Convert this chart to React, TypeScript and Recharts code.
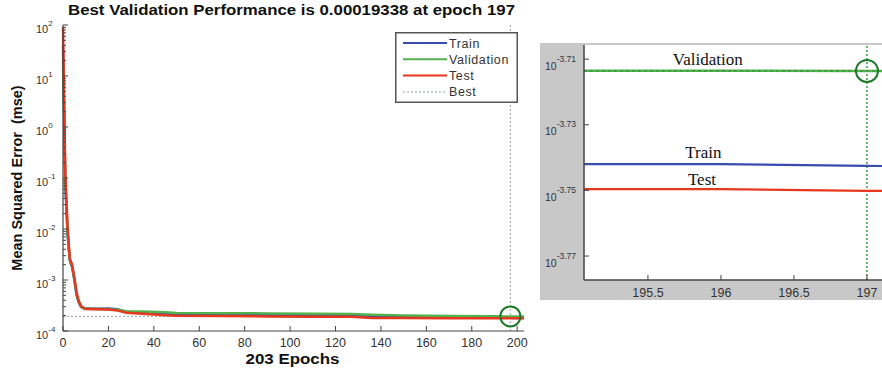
import React from 'react';
import {
  LineChart,
  Line,
  XAxis,
  YAxis,
  ReferenceLine,
  ReferenceDot,
  Legend,
  CartesianGrid,
  Customized,
} from 'recharts';

// ---------- data ----------
const epochs = [0, 1, 2, 3, 4, 5, 6, 7, 8, 9, 10, 15, 20, 24, 28, 35, 45, 50, 70, 90, 110, 127, 136, 150, 170, 190, 195, 196, 197, 198, 203];
const trainMse = [40, 0.079, 7.9e-3, 2.4e-3, 1.78e-3, 1.0e-3, 5.0e-4, 3.55e-4, 2.95e-4, 2.82e-4, 2.75e-4, 2.72e-4, 2.75e-4, 2.66e-4, 2.34e-4, 2.26e-4, 2.21e-4, 2.14e-4, 2.09e-4, 2.07e-4, 2.04e-4, 2.0e-4, 1.95e-4, 1.91e-4, 1.86e-4, 1.82e-4, 1.8113e-4, 1.8113e-4, 1.8092e-4, 1.807e-4, 1.8e-4];
const validationMse = [20, 0.1, 8.9e-3, 2.5e-3, 1.9e-3, 1.05e-3, 5.2e-4, 3.6e-4, 3.0e-4, 2.82e-4, 2.72e-4, 2.69e-4, 2.66e-4, 2.6e-4, 2.45e-4, 2.4e-4, 2.32e-4, 2.26e-4, 2.24e-4, 2.21e-4, 2.19e-4, 2.16e-4, 2.09e-4, 2.02e-4, 1.97e-4, 1.941e-4, 1.934e-4, 1.9339e-4, 1.9338e-4, 1.9339e-4, 1.9345e-4];
const testMse = [90, 0.126, 0.0112, 2.63e-3, 2.0e-3, 1.12e-3, 5.6e-4, 3.8e-4, 3.1e-4, 2.82e-4, 2.69e-4, 2.66e-4, 2.63e-4, 2.51e-4, 2.29e-4, 2.19e-4, 2.04e-4, 2.0e-4, 1.97e-4, 1.93e-4, 1.91e-4, 1.91e-4, 1.8e-4, 1.79e-4, 1.786e-4, 1.78e-4, 1.7799e-4, 1.7799e-4, 1.7778e-4, 1.7775e-4, 1.777e-4];

const bestEpoch = 197;
const bestValidation = 0.00019338;
const totalEpochs = 203;

const mainXTicks = [0, 20, 40, 60, 80, 100, 120, 140, 160, 180, 200];
const mainYDecades = [-4, -3, -2, -1, 0, 1, 2];
const insetXTicks = [195.5, 196, 196.5, 197];
const insetYTicks = [-3.77, -3.75, -3.73, -3.71];
const insetXDomain = [195.062, 197.103];
const insetYDomain = [-3.7773, -3.7057];

const titleText = 'Best Validation Performance is 0.00019338 at epoch 197';
const xLabelText = '203 Epochs';
const yLabelText = 'Mean Squared Error  (mse)';

// ---------- derived table ----------
const rows = epochs.map((e, i) => ({
  epoch: e,
  train: Math.log10(trainMse[i]),
  validation: Math.log10(validationMse[i]),
  test: Math.log10(testMse[i]),
}));
const bestLog = Math.log10(bestValidation);

const minorTicks: number[] = [];
for (let n = -4; n < 2; n++) {
  for (let k = 2; k <= 9; k++) minorTicks.push(n + Math.log10(k));
}
const mainYTicks = [...mainYDecades, ...minorTicks].sort((a, b) => a - b);

// ---------- styles ----------
const SANS = '"Liberation Sans", Arial, Helvetica, sans-serif';
const SERIF = '"Liberation Serif", "Times New Roman", serif';
const TRAIN = '#3a4cb0';
const VALID = '#52b24e';
const TEST = '#e8371f';
const BEST = '#9aa89a';
const AXIS = '#444';
const TICKTXT = '#333';

// ---------- custom ticks ----------
function MainYTick(props: any) {
  const { x, y, payload } = props;
  const v = payload.value as number;
  const major = Math.abs(v - Math.round(v)) < 1e-6;
  return (
    <g>
      <line x1={x} x2={x + (major ? 5 : 3)} y1={y} y2={y} stroke={AXIS} strokeWidth={1} />
      {major && (
        <text x={x - 27} y={y + 8} textAnchor="start" fontSize={11} fill={TICKTXT} fontFamily={SANS}>
          10
          <tspan dy={-7} fontSize={8}>{String(Math.round(v))}</tspan>
        </text>
      )}
    </g>
  );
}

function MainXTick(props: any) {
  const { x, y, payload } = props;
  return (
    <g>
      <line x1={x} x2={x} y1={y} y2={y - 5} stroke={AXIS} strokeWidth={1} />
      <text x={x} y={y + 16} textAnchor="middle" fontSize={12.5} fill={TICKTXT} fontFamily={SANS}>
        {payload.value}
      </text>
    </g>
  );
}

function InsetYTick(props: any) {
  const { x, y, payload } = props;
  const v = payload.value as number;
  return (
    <g>
      <line x1={x} x2={x + 5} y1={y} y2={y} stroke={AXIS} strokeWidth={1} />
      <text x={x - 39} y={y + 10.5} textAnchor="start" fontSize={10.5} fill={TICKTXT} fontFamily={SANS}>
        10
        <tspan dy={-8} fontSize={8.5}>{v.toFixed(2)}</tspan>
      </text>
    </g>
  );
}

function InsetXTick(props: any) {
  const { x, y, payload } = props;
  return (
    <g>
      <line x1={x} x2={x} y1={y} y2={y - 5} stroke={AXIS} strokeWidth={1} />
      <text x={x} y={y + 17} textAnchor="middle" fontSize={12.5} fill={TICKTXT} fontFamily={SANS}>
        {payload.value}
      </text>
    </g>
  );
}

// ---------- labels ----------
function XLabel(props: any) {
  const vb = props.viewBox || {};
  return (
    <text
      x={vb.x + vb.width / 2 - 1}
      y={vb.y + 33}
      textAnchor="middle"
      fontFamily={SANS}
      fontWeight="bold"
      fontSize={14.5}
      fill="#111"
      textLength={94}
      lengthAdjust="spacingAndGlyphs"
    >
      {xLabelText}
    </text>
  );
}

function YLabel(props: any) {
  const vb = props.viewBox || {};
  const cx = vb.x + 9;
  const cy = vb.y + vb.height / 2;
  return (
    <text
      x={cx}
      y={cy}
      transform={`rotate(-90 ${cx} ${cy})`}
      textAnchor="middle"
      fontFamily={SANS}
      fontWeight="bold"
      fontSize={14.5}
      fill="#111"
      style={{ whiteSpace: 'pre' }}
    >
      {yLabelText}
    </text>
  );
}

function Title() {
  return (
    <text
      x={291.5}
      y={15}
      textAnchor="middle"
      fontFamily={SANS}
      fontWeight="bold"
      fontSize={14.5}
      fill="#111"
      textLength={447}
      lengthAdjust="spacingAndGlyphs"
    >
      {titleText}
    </text>
  );
}

const legendItems = [
  { name: 'Train', color: TRAIN, dash: '' },
  { name: 'Validation', color: VALID, dash: '' },
  { name: 'Test', color: TEST, dash: '' },
  { name: 'Best', color: BEST, dash: '2 2' },
];

function LegendBox() {
  return (
    <svg width={123} height={71} style={{ display: 'block' }}>
      <rect x={0.75} y={0.75} width={121.5} height={69.5} fill="#fff" stroke="#555" strokeWidth={1.5} />
      {legendItems.map((it, i) => {
        const cy = 11 + i * 16.3;
        return (
          <g key={it.name}>
            <line
              x1={8}
              x2={52}
              y1={cy}
              y2={cy}
              stroke={it.color}
              strokeWidth={it.dash ? 1 : 2}
              strokeDasharray={it.dash || undefined}
            />
            <text x={54} y={cy + 4.5} fontSize={12.5} letterSpacing={0.6} fill="#333" fontFamily={SANS}>
              {it.name}
            </text>
          </g>
        );
      })}
    </svg>
  );
}

export default function App() {
  return (
    <div style={{ position: 'absolute', left: 0, top: 0, width: 882, height: 372, background: '#fff', overflow: 'hidden' }}>
      {/* main performance plot */}
      <div style={{ position: 'absolute', left: 0, top: 0, width: 540, height: 372 }}>
        <LineChart width={540} height={372} data={rows} margin={{ top: 25, right: 16, bottom: 11, left: 13 }}>
          <XAxis
            dataKey="epoch"
            type="number"
            domain={[0, totalEpochs]}
            ticks={mainXTicks}
            interval={0}
            tickLine={false}
            tickSize={0}
            tickMargin={0}
            height={30}
            axisLine={{ stroke: AXIS, strokeWidth: 1.2 }}
            tick={<MainXTick />}
            label={<XLabel />}
          />
          <YAxis
            type="number"
            domain={[-4, 2]}
            ticks={mainYTicks}
            interval={0}
            tickLine={false}
            tickSize={0}
            tickMargin={0}
            width={50}
            axisLine={{ stroke: AXIS, strokeWidth: 1.2 }}
            tick={<MainYTick />}
            label={<YLabel />}
          />
          <ReferenceLine y={bestLog} stroke={BEST} strokeDasharray="2 2" strokeWidth={1} />
          <ReferenceLine x={bestEpoch} stroke={BEST} strokeDasharray="2 2" strokeWidth={1} />
          <Line type="linear" dataKey="train" stroke={TRAIN} strokeWidth={2.5} dot={false} isAnimationActive={false} />
          <Line type="linear" dataKey="validation" stroke={VALID} strokeWidth={2.5} dot={false} isAnimationActive={false} />
          <Line type="linear" dataKey="test" stroke={TEST} strokeWidth={2.5} dot={false} isAnimationActive={false} />
          <ReferenceDot x={bestEpoch} y={bestLog} r={10} fill="none" stroke="#1e7a2a" strokeWidth={2} />
          <Legend
            layout="vertical"
            align="center"
            verticalAlign="middle"
            width={123}
            height={71}
            wrapperStyle={{ left: 395, top: 32, width: 123, height: 71 }}
            content={() => <LegendBox />}
          />
          <Customized component={Title} />
        </LineChart>
      </div>

      {/* zoomed inset */}
      <div style={{ position: 'absolute', left: 540, top: 43, width: 342, height: 257, background: '#c8c8c8' }}>
        <LineChart width={342} height={257} data={rows} margin={{ top: 2, right: 0, bottom: 0, left: 0 }}>
          <CartesianGrid horizontal={false} vertical={false} fill="#fff" />
          <XAxis
            dataKey="epoch"
            type="number"
            domain={insetXDomain}
            allowDataOverflow
            ticks={insetXTicks}
            interval={0}
            tickLine={false}
            tickSize={0}
            tickMargin={0}
            height={20}
            axisLine={{ stroke: AXIS, strokeWidth: 1.5 }}
            tick={<InsetXTick />}
          />
          <YAxis
            type="number"
            domain={insetYDomain}
            allowDataOverflow
            ticks={insetYTicks}
            interval={0}
            tickLine={false}
            tickSize={0}
            tickMargin={0}
            width={44}
            axisLine={{ stroke: AXIS, strokeWidth: 1.5 }}
            tick={<InsetYTick />}
          />
          <ReferenceLine x={bestEpoch} stroke="#3a9a3a" strokeDasharray="2 2" strokeWidth={1.5} />
          <Line type="linear" dataKey="train" stroke={TRAIN} strokeWidth={2.2} dot={false} isAnimationActive={false} />
          <Line type="linear" dataKey="validation" stroke={VALID} strokeWidth={2.5} dot={false} isAnimationActive={false} />
          <Line type="linear" dataKey="test" stroke={TEST} strokeWidth={2.2} dot={false} isAnimationActive={false} />
          <ReferenceLine y={bestLog} stroke="#2f8a2f" strokeDasharray="3 3" strokeWidth={1} />
          <ReferenceDot x={bestEpoch} y={bestLog} r={11} fill="none" stroke="#1e7a2a" strokeWidth={2} />
          <ReferenceDot
            x={195.91}
            y={bestLog}
            r={0}
            fill="none"
            stroke="none"
            label={{ value: 'Validation', position: 'top', offset: 6, fontSize: 17, fontFamily: SERIF, fill: '#111' }}
          />
          <ReferenceDot
            x={195.88}
            y={Math.log10(trainMse[epochs.indexOf(196)])}
            r={0}
            fill="none"
            stroke="none"
            label={{ value: 'Train', position: 'top', offset: 6, fontSize: 17, fontFamily: SERIF, fill: '#111' }}
          />
          <ReferenceDot
            x={195.87}
            y={Math.log10(testMse[epochs.indexOf(196)])}
            r={0}
            fill="none"
            stroke="none"
            label={{ value: 'Test', position: 'top', offset: 4, fontSize: 17, fontFamily: SERIF, fill: '#111' }}
          />
        </LineChart>
      </div>
    </div>
  );
}
